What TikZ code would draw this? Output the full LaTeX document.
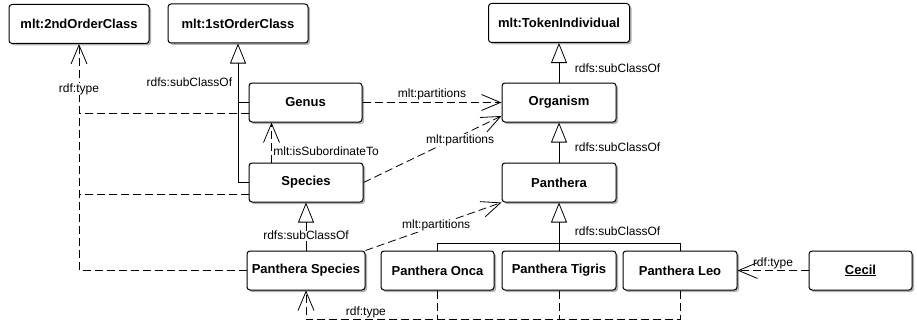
\documentclass[tikz,border=0pt]{standalone}
\usepackage{fontspec}
\setmainfont{Liberation Sans}
\usetikzlibrary{arrows.meta,shadows}

\begin{document}
\begin{tikzpicture}[x=1pt,y=-1pt,
    cls/.style={draw, line width=1pt, rounded corners=3pt, fill=white,
      font=\fontsize{13}{15}\selectfont\bfseries, minimum height=39pt, inner sep=0pt,
      drop shadow={shadow xshift=2pt, shadow yshift=-2pt, opacity=0.3, fill=black}},
    lbl/.style={font=\fontsize{12}{14}\selectfont, inner sep=0.5pt},
    conn/.style={line width=0.8pt},
    dline/.style={conn, dash pattern=on 8pt off 4pt},
    sub/.style={conn, -{Triangle[open, length=20pt, width=16pt, fill=white]}},
    dep/.style={dline, -{Straight Barb[length=19pt, width=16pt]}}]
  \useasboundingbox (0,0) rectangle (917,321);

  \node[cls, minimum width=140pt] (secondOrder) at (79,24) {mlt:2ndOrderClass};
  \node[cls, minimum width=140pt] (firstOrder) at (238,23.5) {mlt:1stOrderClass};
  \node[cls, minimum width=141pt] (tokenInd) at (559,23) {mlt:TokenIndividual};
  \node[cls, minimum width=113pt] (genus) at (305.5,102.5) {Genus};
  \node[cls, minimum width=114pt] (organism) at (559,102.5) {Organism};
  \node[cls, minimum width=114pt] (species) at (306,182.5) {Species};
  \node[cls, minimum width=114pt] (panthera) at (559,182.5) {Panthera};
  \node[cls, minimum width=118pt] (pspecies) at (306,270.5) {Panthera Species};
  \node[cls, minimum width=113pt] (onca) at (437.5,270.5) {Panthera Onca};
  \node[cls, minimum width=114pt] (tigris) at (559,270.5) {Panthera Tigris};
  \node[cls, minimum width=114pt] (leo) at (680,270.5) {Panthera Leo};
  \node[cls, minimum width=103pt] (cecil) at (860.5,270.5) {\underline{Cecil}};

  % subclass links
  \draw[sub] (organism.north) -- (tokenInd.south) node[lbl, pos=0.35, anchor=west, xshift=15pt] {rdfs:subClassOf};
  \draw[sub] (panthera.north) -- (organism.south) node[lbl, pos=0.37, anchor=west, xshift=15pt] {rdfs:subClassOf};
  \draw[sub] (tigris.north) -- (panthera.south) node[lbl, pos=0.41, anchor=west, xshift=15pt] {rdfs:subClassOf};
  \draw[conn] (onca.north) -- ++(0,-7) -| (leo.north);
  \draw[sub] (pspecies.north) -- (species.south) node[lbl, fill=white, pos=0.31] {rdfs:subClassOf};
  \draw[sub] (species.west) -| (firstOrder.south) node[lbl, pos=0.86, anchor=east, xshift=-5pt] {rdfs:subClassOf};
  \draw[conn] (genus.west) -- (genus.west -| firstOrder.south);

  % rdf:type links
  \draw[dep] (pspecies.west) -| (secondOrder.south) node[lbl, fill=white, pos=0.9] {rdf:type};
  \draw[dline] ([yshift=-11pt]genus.west) -- ([yshift=-11pt]genus.west -| secondOrder.south);
  \draw[dline] ([yshift=-11.5pt]species.west) -- ([yshift=-11.5pt]species.west -| secondOrder.south);
  \draw[dep] (leo.south) -- ++(0,29) -| node[lbl, pos=0.42, above=1pt] {rdf:type} (pspecies.south);
  \draw[dline] (onca.south) -- ++(0,29);
  \draw[dline] (tigris.south) -- ++(0,29);
  \draw[dep] (cecil.west) -- (leo.east) node[lbl, midway, above=1pt] {rdf:type};

  % partitions and subordination
  \draw[dep] ([xshift=23pt]species.north west) -- ([xshift=23pt]genus.south west) node[lbl, pos=0.27, anchor=west, xshift=1pt] {mlt:isSubordinateTo};
  \draw[dep] (genus.east) -- (organism.west) node[lbl, midway, above=2pt] {mlt:partitions};
  \draw[dep] (species.east) -- ([yshift=-13.5pt]organism.west) node[lbl, fill=white, pos=0.7, yshift=-4pt] {mlt:partitions};
  \draw[dep] (pspecies.north east) -- (panthera.south west) node[lbl, fill=white, pos=0.52] {mlt:partitions};
\end{tikzpicture}
\end{document}
